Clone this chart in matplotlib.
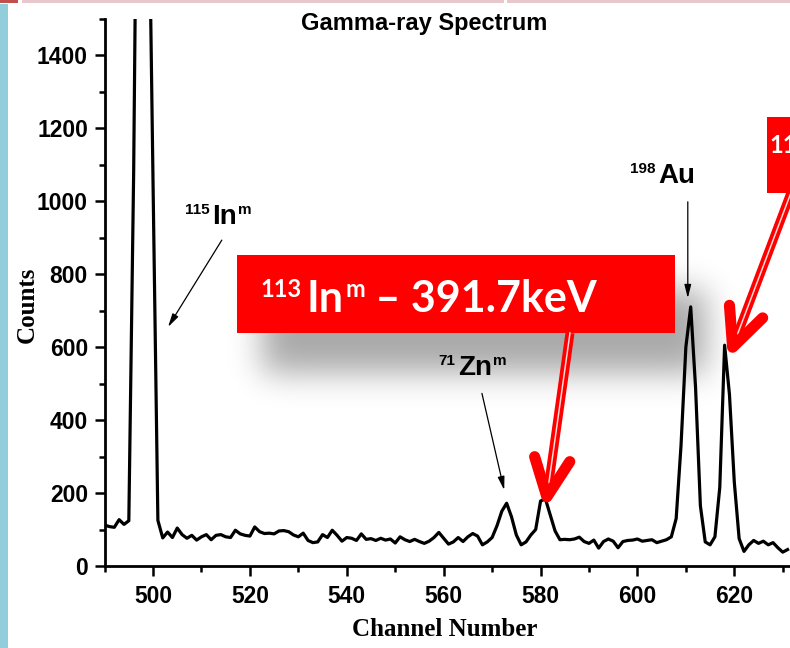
import numpy as np
import matplotlib
matplotlib.use('Agg')
import matplotlib.pyplot as plt
from matplotlib.patches import Rectangle
from matplotlib.ticker import MultipleLocator

# spectrum: counts per channel, 490..631
channels = np.arange(490, 632)
counts = [
    112, 108, 106, 127, 114, 124, 1080, 2500, 6000, 2000,   # 490-499
    1050, 125, 77, 93, 78, 104, 86, 76, 84, 71,             # 500-509
    80, 86, 72, 84, 86, 80, 78, 98, 88, 84,                 # 510-519
    82, 107, 94, 89, 90, 88, 96, 97, 94, 85,                # 520-529
    80, 90, 70, 64, 66, 86, 78, 98, 84, 68,                 # 530-539
    78, 76, 70, 88, 73, 75, 70, 76, 71, 74,                 # 540-549
    63, 80, 72, 67, 73, 67, 62, 68, 78, 92,                 # 550-559
    76, 60, 66, 78, 67, 80, 89, 82, 58, 66,                 # 560-569
    78, 110, 150, 172, 135, 85, 58, 66, 85, 100,            # 570-579
    178, 184, 140, 96, 72, 73, 72, 74, 79, 67,              # 580-589
    62, 71, 49, 67, 74, 68, 50, 67, 70, 71,                 # 590-599
    74, 68, 70, 72, 64, 68, 72, 80, 130, 330,               # 600-609
    600, 710, 490, 165, 66, 58, 80, 215, 605, 470,          # 610-619
    230, 75, 40, 58, 70, 62, 68, 58, 64, 50,                # 620-629
    38, 45,                                                 # 630-631
]

title = 'Gamma-ray Spectrum'
xlabel = 'Channel Number'
ylabel = 'Counts'
callout = ('113', 'In', 'm', ' \u2013 391.7keV')
callout_right = ('115', 'In', 'm', ' \u2013 336.2keV')

plt.rcParams['font.family'] = 'Liberation Sans'
plt.rcParams['font.weight'] = 'bold'

W, H = 790, 648
fig = plt.figure(figsize=(W / 100, H / 100), dpi=100)


def px_axes(z):
    a = fig.add_axes([0, 0, 1, 1], zorder=z)
    a.set_xlim(0, W)
    a.set_ylim(H, 0)
    a.axis('off')
    a.patch.set_visible(False)
    return a


back = px_axes(0)
x0, x1, ybot, ytop = 104.6, 790.0, 566.0, 18.6
ax = fig.add_axes([x0 / W, (H - ybot) / H, (x1 - x0) / W, (ybot - ytop) / H], zorder=1)
ax.patch.set_visible(False)
front = px_axes(2)

# spectrum
ax.plot(channels, counts, color='k', lw=2.3, solid_joinstyle='round')
ax.set_xlim(490, 631.5)
ax.set_ylim(0, 1500)
for s in ('top', 'right'):
    ax.spines[s].set_visible(False)
for s in ('left', 'bottom'):
    ax.spines[s].set_linewidth(2.0)
ax.xaxis.set_major_locator(MultipleLocator(20))
ax.xaxis.set_minor_locator(MultipleLocator(10))
ax.yaxis.set_major_locator(MultipleLocator(200))
ax.yaxis.set_minor_locator(MultipleLocator(100))
ax.tick_params(which='major', direction='out', length=7, width=1.8, labelsize=16.5)
ax.tick_params(which='minor', direction='out', length=4, width=1.8)
ax.tick_params(axis='x', pad=7)
ax.tick_params(axis='y', pad=5)

front.text(424, 30, title, ha='center', va='baseline', fontsize=17)
front.text(445, 629, xlabel, ha='center', va='center', fontsize=18,
           family='Liberation Serif')
front.text(27, 305, ylabel, ha='center', va='center', fontsize=18, rotation=90,
           family='Liberation Serif')


def nuclide(axis, x, y, parts, size, sup, family, color, dx=-2, **kw):
    mass, sym, state = parts[:3]
    main = axis.text(x, y, sym, fontsize=size, family=family, color=color,
                     ha='left', va='baseline', **kw)
    axis.annotate(mass, xy=(0, 1), xycoords=main, xytext=(dx, 1),
                  textcoords='offset points', ha='right', va='top',
                  fontsize=sup, family=family, color=color, **kw)
    m = axis.annotate(state, xy=(1, 1), xycoords=main, xytext=(1, 1),
                      textcoords='offset points', ha='left', va='top',
                      fontsize=sup, family=family, color=color, **kw)
    if len(parts) > 3:
        axis.annotate(parts[3], xy=(1, 0), xycoords=(m, main), ha='left',
                      va='bottom', fontsize=size, family=family, color=color, **kw)
    return main


# isotope labels with thin arrows
nuclide(ax, 512.2, 937, ('115', 'In', 'm'), 20, 11, 'Liberation Sans', 'k')
nuclide(ax, 562.9, 523, ('71', 'Zn', 'm'), 20, 11, 'Liberation Sans', 'k')
nuclide(ax, 604.4, 1049, ('198', 'Au', ''), 20, 11, 'Liberation Sans', 'k')

thin = dict(arrowstyle='-|>,head_length=0.8,head_width=0.2', lw=0.9, color='k',
            shrinkA=0, shrinkB=0)
ax.annotate('', xy=(503.1, 655), xytext=(514.2, 893), arrowprops=thin)
ax.annotate('', xy=(572.5, 208), xytext=(567.9, 473), arrowprops=thin)
ax.annotate('', xy=(610.4, 734), xytext=(610.4, 998), arrowprops=thin)

# decorative frame pieces
back.add_patch(Rectangle((0, 4), 7.5, H, color='#92CDDC', lw=0))
back.add_patch(Rectangle((0, 0), 18, 2.5, color='#C0504D', lw=0))
back.add_patch(Rectangle((22, 0), 482, 2.5, color='#E8C8CC', lw=0))
back.add_patch(Rectangle((507, 0), 283, 2.5, color='#E8C8CC', lw=0))

# soft shadow of the callout
sx0, sx1, sy0, sy1 = 180, 790, 220, 480
gx = np.arange(sx0, sx1)
gy = np.arange(sy0, sy1)
mask = ((gy[:, None] >= 290) & (gy[:, None] <= 372) &
        (gx[None, :] >= 262) & (gx[None, :] <= 705)).astype(float)
k = np.exp(-0.5 * (np.arange(-55, 56) / 16.0) ** 2)
k /= k.sum()
blur = np.apply_along_axis(lambda r: np.convolve(r, k, mode='same'), 1, mask)
blur = np.apply_along_axis(lambda c: np.convolve(c, k, mode='same'), 0, blur)
rgba = np.zeros(blur.shape + (4,))
rgba[..., 3] = blur * 0.34
back.imshow(rgba, extent=(sx0, sx1, sy1, sy0), aspect='auto', interpolation='bilinear')
back.set_xlim(0, W)
back.set_ylim(H, 0)

# red callouts
red = '#FF0000'
front.add_patch(Rectangle((237, 255), 438, 78, color=red, lw=0))
front.add_patch(Rectangle((767, 117), 60, 76, color=red, lw=0))
nuclide(front, 307, 312, callout, 31, 17, 'Lato', 'white', dx=-4)
nuclide(front, 816, 168, callout_right, 31, 17, 'Lato', 'white', dx=-4)


def to_px(x, y):
    dx, dy = ax.transData.transform((x, y))
    return np.array([dx, H - dy])


def red_arrow(tail, tip, arm=42, ang=25):
    tail = np.asarray(tail, float)
    u = tail - tip
    u /= np.hypot(*u)
    end = tip + 8 * u
    front.plot([tail[0], end[0]], [tail[1], end[1]], color=red, lw=6.5,
               solid_capstyle='butt')
    front.plot([tail[0], end[0]], [tail[1], end[1]], color='#FFD8D8', lw=1.1)
    pts = []
    for a in (ang, -ang):
        t = np.deg2rad(a)
        r = np.array([u[0] * np.cos(t) - u[1] * np.sin(t), u[0] * np.sin(t) + u[1] * np.cos(t)])
        pts.append(tip + arm * r)
    front.plot([pts[0][0], tip[0], pts[1][0]], [pts[0][1], tip[1], pts[1][1]],
               color=red, lw=8, solid_capstyle='round', solid_joinstyle='round')


cnt = np.asarray(counts)
i1 = np.argmax(np.where((channels > 575) & (channels < 590), cnt, 0))
i2 = np.argmax(np.where((channels > 614) & (channels < 625), cnt, 0))
red_arrow((570, 333), to_px(channels[i1], cnt[i1]) + [1.5, -2])
red_arrow((792, 190), to_px(channels[i2], cnt[i2]) + [8, 2])

fig.savefig('out.png', dpi=100)
